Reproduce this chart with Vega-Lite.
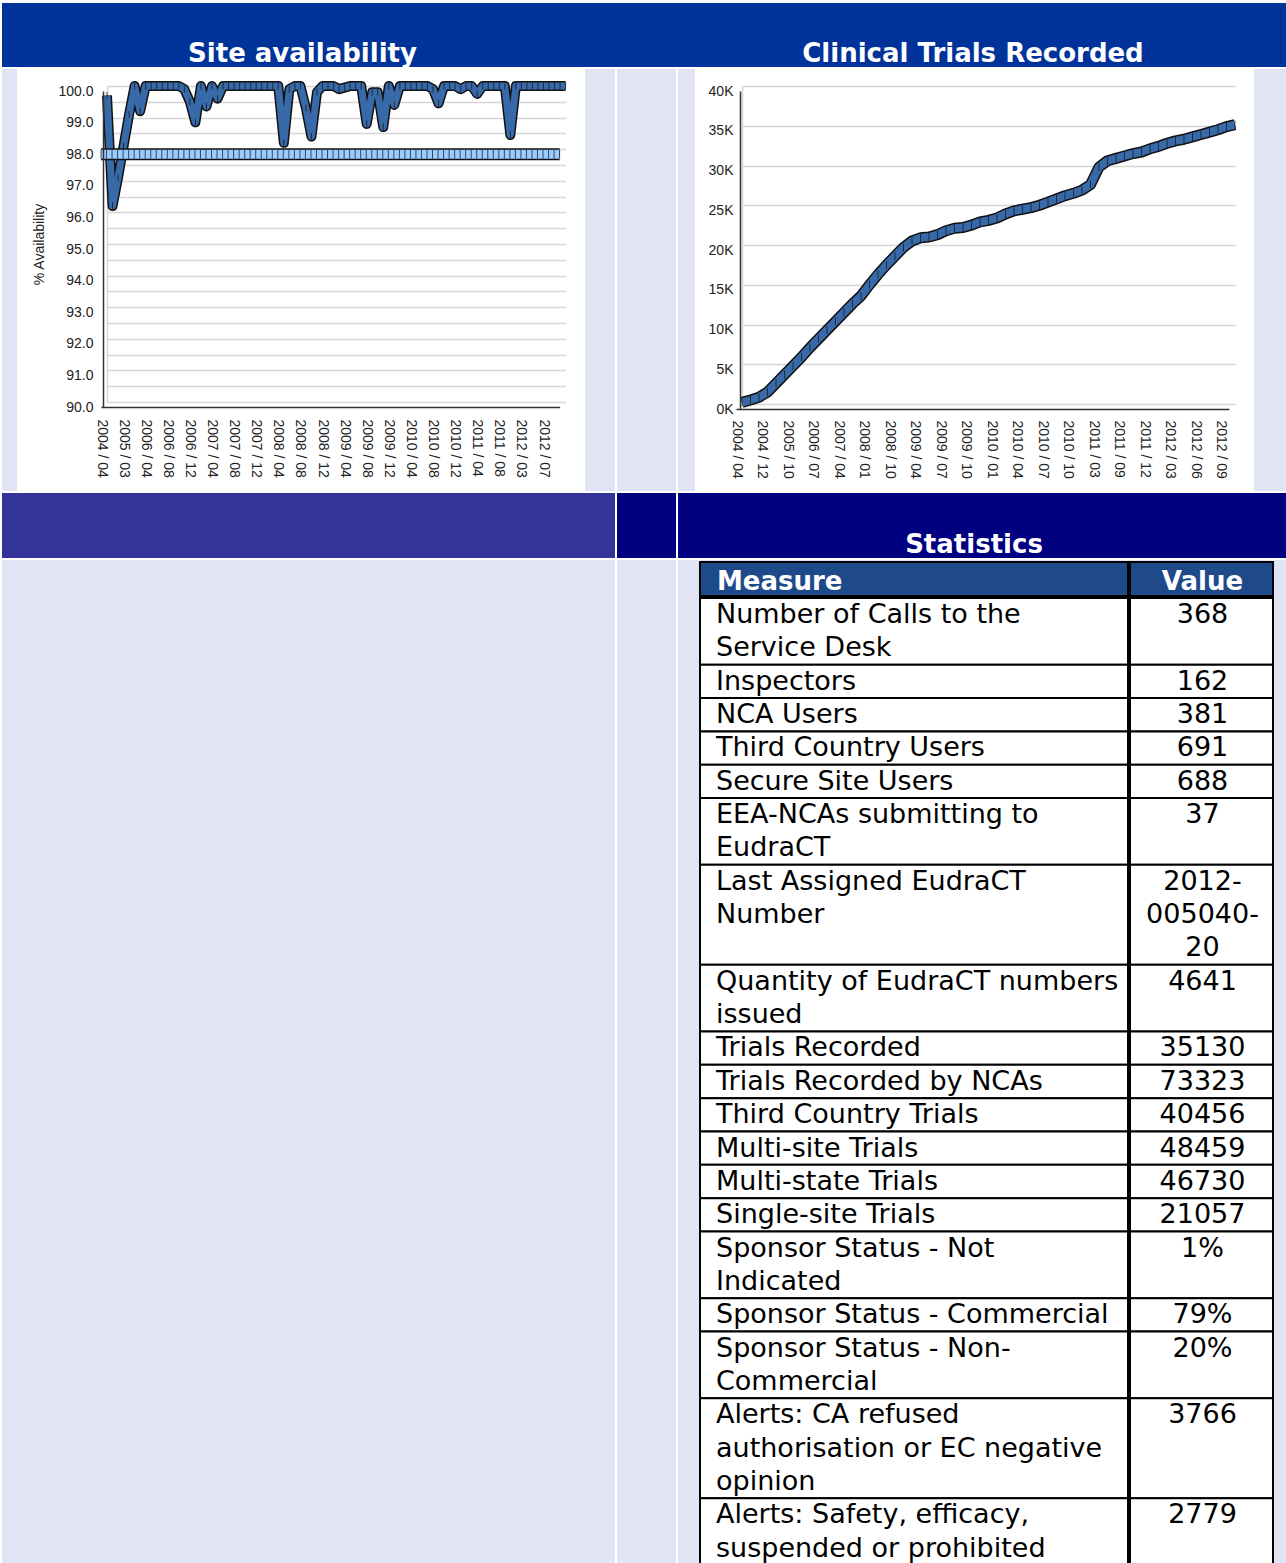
{
  "$schema": "https://vega.github.io/schema/vega-lite/v6.json",
  "padding": {"left": 2, "top": 3, "right": 0, "bottom": 0},
  "background": "white",
  "config": {"view": {"stroke": null}},
  "spacing": 2,
  "datasets": {
    "avail": [
      {"m": "2004 / 04", "v": 99.7}, {"m": "2004 / 06", "v": 96.2}, {"m": "2004 / 09", "v": 97.1}, {"m": "2004 / 12", "v": 98.1},
      {"m": "2005 / 03", "v": 99.1}, {"m": "2005 / 06", "v": 100}, {"m": "2005 / 09", "v": 99.2}, {"m": "2005 / 12", "v": 100},
      {"m": "2006 / 04", "v": 100}, {"m": "2006 / 05", "v": 100}, {"m": "2006 / 06", "v": 100}, {"m": "2006 / 07", "v": 100},
      {"m": "2006 / 08", "v": 100}, {"m": "2006 / 09", "v": 100}, {"m": "2006 / 10", "v": 99.9}, {"m": "2006 / 11", "v": 99.5},
      {"m": "2006 / 12", "v": 98.85}, {"m": "2007 / 01", "v": 100}, {"m": "2007 / 02", "v": 99.35}, {"m": "2007 / 03", "v": 100},
      {"m": "2007 / 04", "v": 99.6}, {"m": "2007 / 05", "v": 100}, {"m": "2007 / 06", "v": 100}, {"m": "2007 / 07", "v": 100},
      {"m": "2007 / 08", "v": 100}, {"m": "2007 / 09", "v": 100}, {"m": "2007 / 10", "v": 100}, {"m": "2007 / 11", "v": 100},
      {"m": "2007 / 12", "v": 100}, {"m": "2008 / 01", "v": 100}, {"m": "2008 / 02", "v": 100}, {"m": "2008 / 03", "v": 100},
      {"m": "2008 / 04", "v": 98.2}, {"m": "2008 / 05", "v": 99.9}, {"m": "2008 / 06", "v": 100}, {"m": "2008 / 07", "v": 100},
      {"m": "2008 / 08", "v": 99.3}, {"m": "2008 / 09", "v": 98.4}, {"m": "2008 / 10", "v": 99.8}, {"m": "2008 / 11", "v": 100},
      {"m": "2008 / 12", "v": 100}, {"m": "2009 / 01", "v": 100}, {"m": "2009 / 02", "v": 99.9}, {"m": "2009 / 03", "v": 99.95},
      {"m": "2009 / 04", "v": 100}, {"m": "2009 / 05", "v": 100}, {"m": "2009 / 06", "v": 100}, {"m": "2009 / 07", "v": 98.8},
      {"m": "2009 / 08", "v": 99.8}, {"m": "2009 / 09", "v": 99.8}, {"m": "2009 / 10", "v": 98.7}, {"m": "2009 / 11", "v": 100},
      {"m": "2009 / 12", "v": 99.4}, {"m": "2010 / 01", "v": 100}, {"m": "2010 / 02", "v": 100}, {"m": "2010 / 03", "v": 100},
      {"m": "2010 / 04", "v": 100}, {"m": "2010 / 05", "v": 100}, {"m": "2010 / 06", "v": 100}, {"m": "2010 / 07", "v": 99.9},
      {"m": "2010 / 08", "v": 99.45}, {"m": "2010 / 09", "v": 100}, {"m": "2010 / 10", "v": 100}, {"m": "2010 / 11", "v": 100},
      {"m": "2010 / 12", "v": 99.9}, {"m": "2011 / 01", "v": 100}, {"m": "2011 / 02", "v": 100}, {"m": "2011 / 03", "v": 99.75},
      {"m": "2011 / 04", "v": 100}, {"m": "2011 / 05", "v": 100}, {"m": "2011 / 06", "v": 100}, {"m": "2011 / 07", "v": 100},
      {"m": "2011 / 08", "v": 100}, {"m": "2011 / 09", "v": 98.45}, {"m": "2011 / 11", "v": 100}, {"m": "2012 / 01", "v": 100},
      {"m": "2012 / 03", "v": 100}, {"m": "2012 / 04", "v": 100}, {"m": "2012 / 05", "v": 100}, {"m": "2012 / 06", "v": 100},
      {"m": "2012 / 07", "v": 100}, {"m": "2012 / 08", "v": 100}, {"m": "2012 / 09", "v": 100}, {"m": "2012 / 10", "v": 100}
    ],
    "trials": [
      {"m": "2004 / 04", "n": 200}, {"m": "2004 / 07", "n": 500}, {"m": "2004 / 10", "n": 850}, {"m": "2004 / 12", "n": 1500},
      {"m": "2005 / 03", "n": 2600}, {"m": "2005 / 06", "n": 3700}, {"m": "2005 / 10", "n": 4800}, {"m": "2006 / 01", "n": 5900},
      {"m": "2006 / 04", "n": 7100}, {"m": "2006 / 07", "n": 8200}, {"m": "2006 / 10", "n": 9300}, {"m": "2007 / 01", "n": 10400},
      {"m": "2007 / 04", "n": 11500}, {"m": "2007 / 07", "n": 12600}, {"m": "2007 / 10", "n": 13600}, {"m": "2008 / 01", "n": 15000},
      {"m": "2008 / 04", "n": 16300}, {"m": "2008 / 07", "n": 17500}, {"m": "2008 / 10", "n": 18600}, {"m": "2008 / 12", "n": 19700},
      {"m": "2009 / 02", "n": 20500}, {"m": "2009 / 04", "n": 20900}, {"m": "2009 / 05", "n": 21000}, {"m": "2009 / 06", "n": 21300},
      {"m": "2009 / 07", "n": 21800}, {"m": "2009 / 08", "n": 22100}, {"m": "2009 / 09", "n": 22200}, {"m": "2009 / 10", "n": 22500},
      {"m": "2009 / 11", "n": 22900}, {"m": "2009 / 12", "n": 23100}, {"m": "2010 / 01", "n": 23400}, {"m": "2010 / 02", "n": 23900},
      {"m": "2010 / 03", "n": 24300}, {"m": "2010 / 04", "n": 24500}, {"m": "2010 / 05", "n": 24700}, {"m": "2010 / 06", "n": 25000},
      {"m": "2010 / 07", "n": 25400}, {"m": "2010 / 08", "n": 25800}, {"m": "2010 / 09", "n": 26200}, {"m": "2010 / 10", "n": 26500},
      {"m": "2010 / 11", "n": 26900}, {"m": "2011 / 01", "n": 27600}, {"m": "2011 / 03", "n": 29800}, {"m": "2011 / 05", "n": 30600},
      {"m": "2011 / 07", "n": 30900}, {"m": "2011 / 09", "n": 31200}, {"m": "2011 / 10", "n": 31500}, {"m": "2011 / 11", "n": 31700},
      {"m": "2011 / 12", "n": 32100}, {"m": "2012 / 01", "n": 32400}, {"m": "2012 / 02", "n": 32800}, {"m": "2012 / 03", "n": 33100},
      {"m": "2012 / 04", "n": 33300}, {"m": "2012 / 05", "n": 33600}, {"m": "2012 / 06", "n": 33900}, {"m": "2012 / 07", "n": 34200},
      {"m": "2012 / 08", "n": 34500}, {"m": "2012 / 09", "n": 34900}, {"m": "2012 / 10", "n": 35130}
    ],
    "stats": [
      {"measure": "Number of Calls to the\nService Desk", "value": "368"},
      {"measure": "Inspectors", "value": "162"},
      {"measure": "NCA Users", "value": "381"},
      {"measure": "Third Country Users", "value": "691"},
      {"measure": "Secure Site Users", "value": "688"},
      {"measure": "EEA-NCAs submitting to\nEudraCT", "value": "37"},
      {"measure": "Last Assigned EudraCT\nNumber", "value": "2012-\n005040-\n20"},
      {"measure": "Quantity of EudraCT numbers\nissued", "value": "4641"},
      {"measure": "Trials Recorded", "value": "35130"},
      {"measure": "Trials Recorded by NCAs", "value": "73323"},
      {"measure": "Third Country Trials", "value": "40456"},
      {"measure": "Multi-site Trials", "value": "48459"},
      {"measure": "Multi-state Trials", "value": "46730"},
      {"measure": "Single-site Trials", "value": "21057"},
      {"measure": "Sponsor Status - Not\nIndicated", "value": "1%"},
      {"measure": "Sponsor Status - Commercial", "value": "79%"},
      {"measure": "Sponsor Status - Non-\nCommercial", "value": "20%"},
      {"measure": "Alerts: CA refused\nauthorisation or EC negative\nopinion", "value": "3766"},
      {"measure": "Alerts: Safety, efficacy,\nsuspended or prohibited", "value": "2779"}
    ]
  },
  "vconcat": [
    {
      "spacing": 0,
      "hconcat": [
        {"width": 613, "height": 64, "view": {"fill": "#003399", "stroke": null}, "data": {"values": [{"t": "Site availability"}]},
         "mark": {"type": "text", "color": "white", "font": "DejaVu Sans", "fontWeight": "bold", "fontSize": 26, "baseline": "alphabetic", "dx": -6, "dy": 27},
         "encoding": {"text": {"field": "t"}}},
        {"width": 63, "height": 64, "view": {"fill": "#003399", "stroke": null}, "data": {"values": [{}]}, "mark": {"type": "rect", "opacity": 0}, "encoding": {}},
        {"width": 608, "height": 64, "view": {"fill": "#003399", "stroke": null}, "data": {"values": [{"t": "Clinical Trials Recorded"}]},
         "mark": {"type": "text", "color": "white", "font": "DejaVu Sans", "fontWeight": "bold", "fontSize": 26, "baseline": "alphabetic", "dx": -9, "dy": 27},
         "encoding": {"text": {"field": "t"}}}
      ]
    },
    {
      "spacing": 2,
      "hconcat": [
        {
          "spacing": 0,
          "hconcat": [
            {"width": 15, "height": 422, "view": {"fill": "#E0E4F4", "stroke": null}, "data": {"values": [{}]}, "mark": {"type": "rect", "opacity": 0}, "encoding": {}},
            {
              "width": 568, "height": 422,
              "view": {"fill": "white", "stroke": null},
              "data": {"name": "avail"},
              "resolve": {"scale": {"x": "independent", "y": "independent"}, "axis": {"x": "independent", "y": "independent"}},
              "layer": [
                {
                  "encoding": {
                    "x": {"field": "m", "type": "ordinal", "sort": null,
                          "scale": {"type": "point", "range": [84, 542.6], "padding": 0},
                          "axis": {"orient": "bottom", "offset": -84,
                                   "labelExpr": "indexof(['2004 / 04','2005 / 03','2006 / 04','2006 / 08','2006 / 12','2007 / 04','2007 / 08','2007 / 12','2008 / 04','2008 / 08','2008 / 12','2009 / 04','2009 / 08','2009 / 12','2010 / 04','2010 / 08','2010 / 12','2011 / 04','2011 / 08','2012 / 03','2012 / 07'], datum.value) >= 0 ? datum.value : ''",
                                   "labelAngle": 90, "labelPadding": 12, "ticks": false, "grid": false, "domain": true, "domainColor": "#333333", "domainWidth": 1.5,
                                   "labelFont": "Liberation Sans", "labelFontSize": 14, "labelColor": "#222222", "labelOverlap": false, "title": null, "zindex": 1}},
                    "y": {"field": "v", "type": "quantitative",
                          "scale": {"domain": [90, 100], "range": [338, 22], "zero": false, "nice": false},
                          "axis": {"orient": "left", "offset": -86, "values": [90,91,92,93,94,95,96,97,98,99,100], "format": ".1f", "grid": false, "ticks": false,
                                   "domain": true, "domainColor": "#333333", "domainWidth": 1.5, "labelPadding": 10,
                                   "labelFont": "Liberation Sans", "labelFontSize": 14, "labelColor": "#222222", "title": null, "zindex": 1}}
                  },
                  "layer": [
                    {"mark": {"type": "line", "strokeOpacity": 0}}
                  ]
                },
                {
                  "encoding": {
                    "x": {"field": "m", "type": "ordinal", "sort": null,
                          "scale": {"type": "point", "range": [90, 548.6], "padding": 0}, "axis": null},
                    "y": {"field": "v", "type": "quantitative",
                          "scale": {"domain": [90, 100], "range": [333, 17], "zero": false, "nice": false},
                          "axis": {"orient": "left", "offset": -90, "values": [90,90.5,91,91.5,92,92.5,93,93.5,94,94.5,95,95.5,96,96.5,97,97.5,98,98.5,99,99.5,100],
                                   "grid": true, "gridColor": "#D6D6D6", "gridWidth": 1.5, "labels": false, "ticks": false,
                                   "domain": true, "domainColor": "#D6D6D6", "domainWidth": 1.5,
                                   "title": "% Availability", "titleFont": "Liberation Sans", "titleFontSize": 14, "titleFontWeight": "normal", "titleColor": "#222222", "titlePadding": 61, "zindex": 0}}
                  },
                  "layer": [
                    {"mark": {"type": "line", "color": "#111111", "strokeWidth": 10, "strokeJoin": "round", "strokeCap": "butt"}},
                    {"mark": {"type": "line", "color": "#3869A8", "strokeWidth": 7, "strokeJoin": "round", "strokeCap": "butt"}},
                    {"mark": {"type": "tick", "orient": "vertical", "color": "#111111", "size": 7, "thickness": 1}}
                  ]
                },
                {
                  "encoding": {
                    "x": {"field": "m", "type": "ordinal", "sort": null,
                          "scale": {"type": "point", "range": [84, 542.6], "padding": 0}, "axis": null},
                    "y": {"datum": 98, "type": "quantitative",
                          "scale": {"domain": [90, 100], "range": [338, 22], "zero": false, "nice": false}, "axis": null}
                  },
                  "layer": [
                    {"mark": {"type": "line", "color": "#111111", "strokeWidth": 12, "strokeCap": "butt"}},
                    {"mark": {"type": "line", "color": "#99CCFF", "strokeWidth": 9, "strokeCap": "butt"}},
                    {"mark": {"type": "tick", "orient": "vertical", "color": "#111111", "size": 9, "thickness": 1}}
                  ]
                }
              ]
            },
            {"width": 30, "height": 422, "view": {"fill": "#E0E4F4", "stroke": null}, "data": {"values": [{}]}, "mark": {"type": "rect", "opacity": 0}, "encoding": {}}
          ]
        },
        {"width": 59, "height": 422, "view": {"fill": "#E0E4F4", "stroke": null}, "data": {"values": [{}]}, "mark": {"type": "rect", "opacity": 0}, "encoding": {}},
        {
          "spacing": 0,
          "hconcat": [
            {"width": 17, "height": 422, "view": {"fill": "#E0E4F4", "stroke": null}, "data": {"values": [{}]}, "mark": {"type": "rect", "opacity": 0}, "encoding": {}},
            {
              "width": 559, "height": 422,
              "view": {"fill": "white", "stroke": null},
              "data": {"name": "trials"},
              "resolve": {"scale": {"x": "independent", "y": "independent"}, "axis": {"x": "independent", "y": "independent"}},
              "layer": [
                {
                  "encoding": {
                    "x": {"field": "m", "type": "ordinal", "sort": null,
                          "scale": {"type": "point", "range": [41, 534], "padding": 0},
                          "axis": {"orient": "bottom", "offset": -82, "values": ["2004 / 04","2004 / 12","2005 / 10","2006 / 07","2007 / 04","2008 / 01","2008 / 10","2009 / 04","2009 / 07","2009 / 10","2010 / 01","2010 / 04","2010 / 07","2010 / 10","2011 / 03","2011 / 09","2011 / 12","2012 / 03","2012 / 06","2012 / 09"],
                                   "labelAngle": 90, "labelPadding": 11, "ticks": false, "grid": false, "domain": true, "domainColor": "#333333", "domainWidth": 1.5,
                                   "labelFont": "Liberation Sans", "labelFontSize": 14, "labelColor": "#222222", "labelOverlap": false, "title": null, "zindex": 1}},
                    "y": {"field": "n", "type": "quantitative",
                          "scale": {"domain": [0, 40000], "range": [340, 22], "zero": false, "nice": false},
                          "axis": {"orient": "left", "offset": -45, "values": [0,5000,10000,15000,20000,25000,30000,35000,40000],
                                   "labelExpr": "format(datum.value / 1000, 'd') + 'K'", "grid": false, "ticks": false,
                                   "domain": true, "domainColor": "#333333", "domainWidth": 1.5, "labelPadding": 7,
                                   "labelFont": "Liberation Sans", "labelFontSize": 14, "labelColor": "#222222", "title": null, "zindex": 1}}
                  },
                  "layer": [
                    {"mark": {"type": "line", "strokeOpacity": 0}}
                  ]
                },
                {
                  "encoding": {
                    "x": {"field": "m", "type": "ordinal", "sort": null,
                          "scale": {"type": "point", "range": [47, 540], "padding": 0}, "axis": null},
                    "y": {"field": "n", "type": "quantitative",
                          "scale": {"domain": [0, 40000], "range": [335, 17], "zero": false, "nice": false},
                          "axis": {"orient": "left", "offset": -47, "values": [0,5000,10000,15000,20000,25000,30000,35000,40000],
                                   "grid": true, "gridColor": "#D6D6D6", "gridWidth": 1.5, "labels": false, "ticks": false,
                                   "domain": true, "domainColor": "#D6D6D6", "domainWidth": 1.5, "title": null, "zindex": 0}}
                  },
                  "layer": [
                    {"mark": {"type": "line", "color": "#111111", "strokeWidth": 11, "strokeJoin": "round", "strokeCap": "butt"}},
                    {"mark": {"type": "line", "color": "#3869A8", "strokeWidth": 8, "strokeJoin": "round", "strokeCap": "butt"}},
                    {"mark": {"type": "tick", "orient": "vertical", "color": "#111111", "size": 8, "thickness": 1}}
                  ]
                }
              ]
            },
            {"width": 32, "height": 422, "view": {"fill": "#E0E4F4", "stroke": null}, "data": {"values": [{}]}, "mark": {"type": "rect", "opacity": 0}, "encoding": {}}
          ]
        }
      ]
    },
    {
      "spacing": 2,
      "hconcat": [
        {"width": 613, "height": 65, "view": {"fill": "#333399", "stroke": null}, "data": {"values": [{}]}, "mark": {"type": "rect", "opacity": 0}, "encoding": {}},
        {"width": 59, "height": 65, "view": {"fill": "#000080", "stroke": null}, "data": {"values": [{}]}, "mark": {"type": "rect", "opacity": 0}, "encoding": {}},
        {"width": 608, "height": 65, "view": {"fill": "#000080", "stroke": null}, "data": {"values": [{"t": "Statistics"}]},
         "mark": {"type": "text", "color": "white", "font": "DejaVu Sans", "fontWeight": "bold", "fontSize": 26, "baseline": "alphabetic", "dx": -8, "dy": 27},
         "encoding": {"text": {"field": "t"}}}
      ]
    },
    {
      "spacing": 2,
      "hconcat": [
        {"width": 613, "height": 1003, "view": {"fill": "#E0E4F4", "stroke": null}, "data": {"values": [{}]}, "mark": {"type": "rect", "opacity": 0}, "encoding": {}},
        {"width": 59, "height": 1003, "view": {"fill": "#E0E4F4", "stroke": null}, "data": {"values": [{}]}, "mark": {"type": "rect", "opacity": 0}, "encoding": {}},
        {
          "spacing": 0,
          "hconcat": [
            {"width": 21, "height": 1003, "view": {"fill": "#E0E4F4", "stroke": null}, "data": {"values": [{}]}, "mark": {"type": "rect", "opacity": 0}, "encoding": {}},
            {
              "spacing": 0,
              "vconcat": [
                {"width": 571, "height": 1, "view": {"fill": "#E0E4F4", "stroke": null}, "data": {"values": [{}]}, "mark": {"type": "rect", "opacity": 0}, "encoding": {}},
                {
                  "spacing": 0,
                  "hconcat": [
                    {"width": 428, "height": 34, "view": {"fill": "#1F4A8A", "stroke": "#000000", "strokeWidth": 2}, "data": {"values": [{"t": "Measure"}]},
                     "mark": {"type": "text", "color": "white", "font": "DejaVu Sans", "fontWeight": "bold", "fontSize": 26, "align": "left", "baseline": "middle", "dx": -197, "dy": 3},
                     "encoding": {"text": {"field": "t"}}},
                    {"width": 143, "height": 34, "view": {"fill": "#1F4A8A", "stroke": "#000000", "strokeWidth": 2}, "data": {"values": [{"t": "Value"}]},
                     "mark": {"type": "text", "color": "white", "font": "DejaVu Sans", "fontWeight": "bold", "fontSize": 26, "align": "center", "baseline": "middle", "dx": 1, "dy": 3},
                     "encoding": {"text": {"field": "t"}}}
                  ]
                },
                {
                  "spacing": 0,
                  "hconcat": [
                    {
                      "width": 428, "height": 967,
                      "view": {"fill": "#E0E4F4", "stroke": null},
                      "data": {"name": "stats"},
                      "transform": [
                        {"calculate": "max(length(split(datum.measure, '\\n')), length(split(datum.value, '\\n')))", "as": "nl"},
                        {"window": [{"op": "sum", "field": "nl", "as": "end"}], "frame": [null, 0]},
                        {"calculate": "datum.end - datum.nl", "as": "start"}
                      ],
                      "encoding": {"y": {"field": "start", "type": "quantitative", "scale": {"domain": [0, 29], "reverse": true, "zero": false, "nice": false}, "axis": null}},
                      "layer": [
                        {"mark": {"type": "rect", "fill": "white", "stroke": "#000000", "strokeWidth": 2}, "encoding": {"y2": {"field": "end"}}},
                        {"mark": {"type": "text", "align": "left", "baseline": "top", "dx": -198, "dy": 4, "font": "DejaVu Sans", "fontSize": 27, "lineBreak": "\n", "lineHeight": 33.3, "color": "#000000"},
                         "encoding": {"text": {"field": "measure"}}}
                      ]
                    },
                    {
                      "width": 143, "height": 967,
                      "view": {"fill": "#E0E4F4", "stroke": null},
                      "data": {"name": "stats"},
                      "transform": [
                        {"calculate": "max(length(split(datum.measure, '\\n')), length(split(datum.value, '\\n')))", "as": "nl"},
                        {"window": [{"op": "sum", "field": "nl", "as": "end"}], "frame": [null, 0]},
                        {"calculate": "datum.end - datum.nl", "as": "start"}
                      ],
                      "encoding": {"y": {"field": "start", "type": "quantitative", "scale": {"domain": [0, 29], "reverse": true, "zero": false, "nice": false}, "axis": null}},
                      "layer": [
                        {"mark": {"type": "rect", "fill": "white", "stroke": "#000000", "strokeWidth": 2}, "encoding": {"y2": {"field": "end"}}},
                        {"mark": {"type": "text", "align": "center", "baseline": "top", "dx": 1, "dy": 4, "font": "DejaVu Sans", "fontSize": 27, "lineBreak": "\n", "lineHeight": 33.3, "color": "#000000"},
                         "encoding": {"text": {"field": "value"}}}
                      ]
                    }
                  ]
                }
              ]
            },
            {"width": 16, "height": 1003, "view": {"fill": "#E0E4F4", "stroke": null}, "data": {"values": [{}]}, "mark": {"type": "rect", "opacity": 0}, "encoding": {}}
          ]
        }
      ]
    }
  ]
}
